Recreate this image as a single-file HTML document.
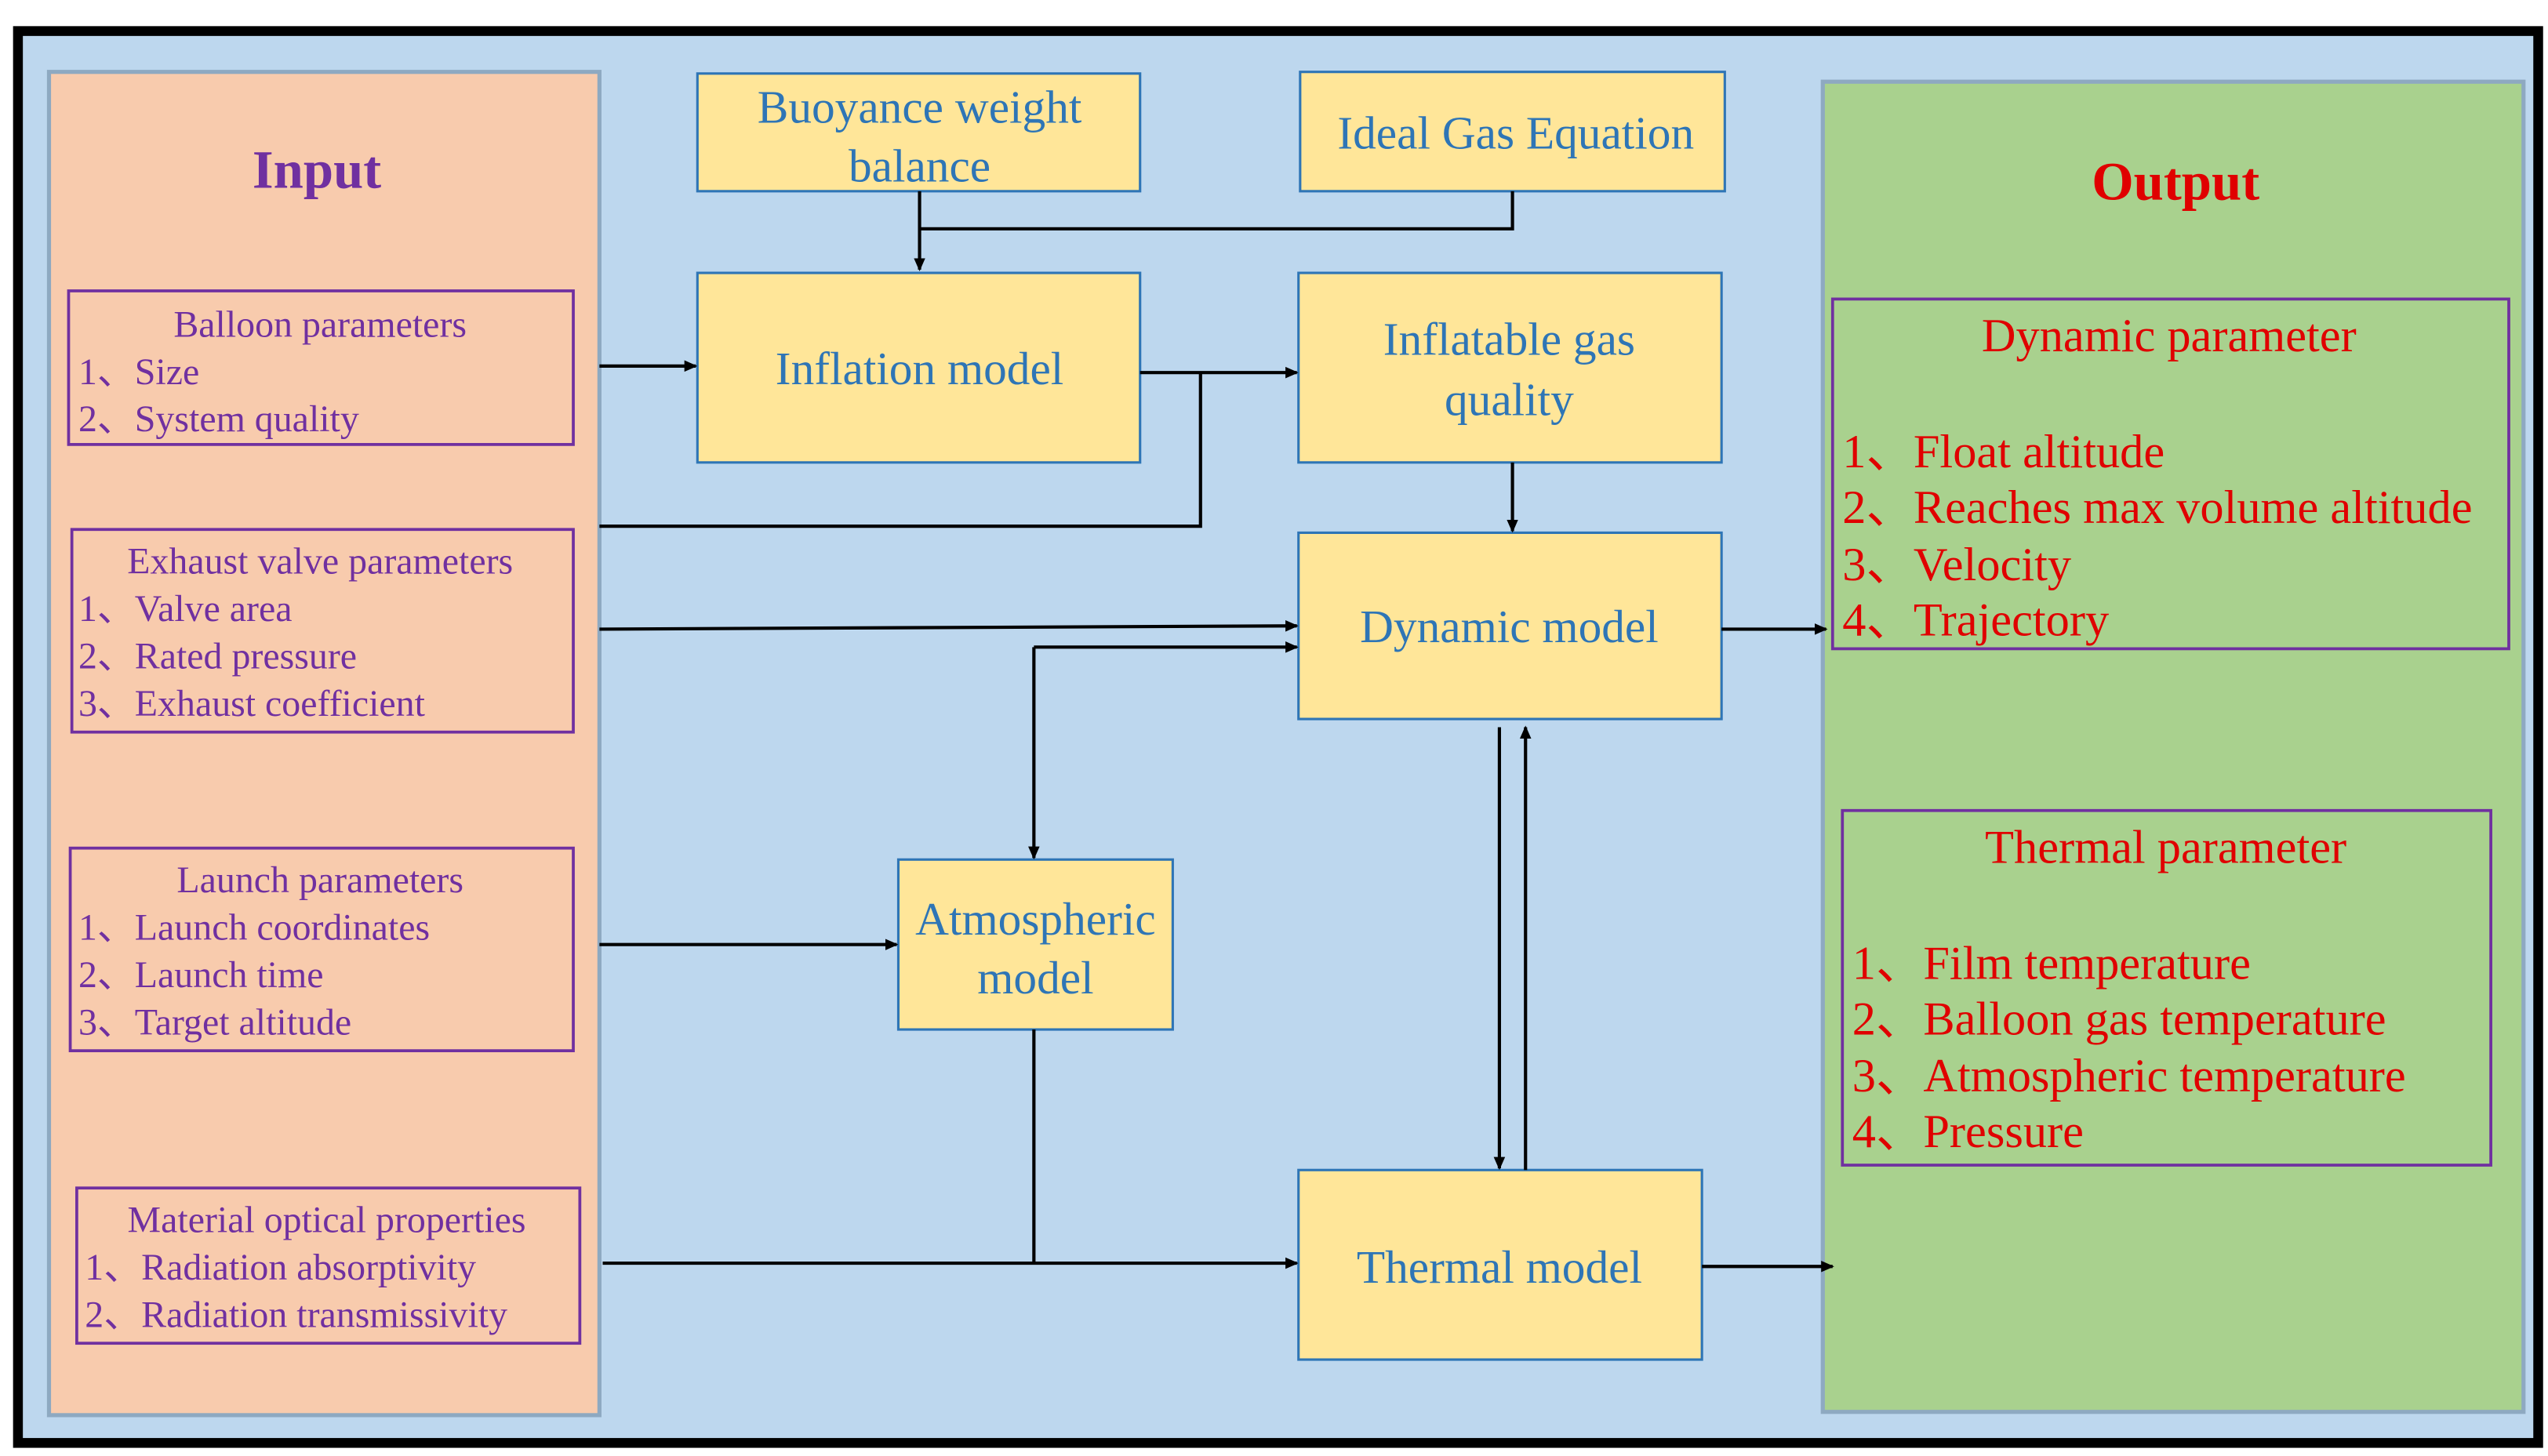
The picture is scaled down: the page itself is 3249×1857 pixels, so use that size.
<!DOCTYPE html>
<html><head><meta charset="utf-8"><style>
html,body{margin:0;padding:0;background:#fff;}
svg{display:block;}
text{font-family:"Liberation Serif",serif;}
</style></head><body>
<svg width="3249" height="1857" viewBox="0 0 1560 891" preserveAspectRatio="none" xmlns="http://www.w3.org/2000/svg">
<defs>
<marker id="a" markerWidth="8" markerHeight="8" refX="7" refY="4" orient="auto" markerUnits="userSpaceOnUse">
<path d="M0,0.5 L8,4 L0,7.5 z" fill="#000"/></marker>
</defs>
<rect x="0" y="0" width="1560" height="891" fill="#fff"/>
<rect x="11" y="19" width="1543" height="864" fill="#BDD7EE" stroke="#000" stroke-width="6"/>
<rect x="30" y="44" width="337" height="822" fill="#F8CBAD" stroke="#8EA9C1" stroke-width="2.5"/>
<rect x="1116" y="50" width="429" height="814" fill="#A9D18E" stroke="#8EA9C1" stroke-width="2.5"/>
<text x="194" y="115" font-size="33" font-weight="bold" fill="#7030A0" text-anchor="middle">Input</text>
<text x="1332" y="122" font-size="33" font-weight="bold" fill="#E00000" text-anchor="middle">Output</text>
<g fill="none" stroke="#7030A0" stroke-width="1.8">
<rect x="42" y="178" width="309" height="94"/>
<rect x="44" y="324" width="307" height="124"/>
<rect x="43" y="519" width="308" height="124"/>
<rect x="47" y="727" width="308" height="95"/>
</g>
<g font-size="23" fill="#7030A0">
<text x="196" y="206" text-anchor="middle">Balloon parameters</text>
<text x="48" y="235">1、Size</text>
<text x="48" y="264">2、System quality</text>
<text x="196" y="351" text-anchor="middle">Exhaust valve parameters</text>
<text x="48" y="380">1、Valve area</text>
<text x="48" y="409">2、Rated pressure</text>
<text x="48" y="438">3、Exhaust coefficient</text>
<text x="196" y="546" text-anchor="middle">Launch parameters</text>
<text x="48" y="575">1、Launch coordinates</text>
<text x="48" y="604">2、Launch time</text>
<text x="48" y="633">3、Target altitude</text>
<text x="200" y="754" text-anchor="middle">Material optical properties</text>
<text x="52" y="783">1、Radiation absorptivity</text>
<text x="52" y="812">2、Radiation transmissivity</text>
</g>
<g fill="#FFE699" stroke="#2E75B6" stroke-width="1.5">
<rect x="427" y="45" width="271" height="72"/>
<rect x="796" y="44" width="260" height="73"/>
<rect x="427" y="167" width="271" height="116"/>
<rect x="795" y="167" width="259" height="116"/>
<rect x="795" y="326" width="259" height="114"/>
<rect x="550" y="526" width="168" height="104"/>
<rect x="795" y="716" width="247" height="116"/>
</g>
<g font-size="28.5" fill="#2E75B6" text-anchor="middle">
<text x="563" y="75">Buoyance weight</text>
<text x="563" y="111">balance</text>
<text x="928" y="91">Ideal Gas Equation</text>
<text x="563" y="235">Inflation model</text>
<text x="924" y="217">Inflatable gas</text>
<text x="924" y="254">quality</text>
<text x="924" y="393">Dynamic model</text>
<text x="634" y="572">Atmospheric</text>
<text x="634" y="608">model</text>
<text x="918" y="785">Thermal model</text>
</g>
<g fill="none" stroke="#7030A0" stroke-width="1.8">
<rect x="1122" y="183" width="414" height="214"/>
<rect x="1128" y="496" width="397" height="217"/>
</g>
<g font-size="29" fill="#E00000">
<text x="1328" y="215" text-anchor="middle">Dynamic parameter</text>
<text x="1128" y="286">1、Float altitude</text>
<text x="1128" y="320">2、Reaches max volume altitude</text>
<text x="1128" y="355">3、Velocity</text>
<text x="1128" y="389">4、Trajectory</text>
<text x="1326" y="528" text-anchor="middle">Thermal parameter</text>
<text x="1134" y="599">1、Film temperature</text>
<text x="1134" y="633">2、Balloon gas temperature</text>
<text x="1134" y="668">3、Atmospheric temperature</text>
<text x="1134" y="702">4、Pressure</text>
</g>
<g stroke="#000" stroke-width="2" fill="none">
<path d="M563,117 V165" marker-end="url(#a)"/>
<path d="M926,117 V140 H563"/>
<path d="M367,224 H426" marker-end="url(#a)"/>
<path d="M698,228 H794" marker-end="url(#a)"/>
<path d="M367,322 H735 V228"/>
<path d="M926,283 V325" marker-end="url(#a)"/>
<path d="M367,385 L794,383" marker-end="url(#a)"/>
<path d="M633,396 H794" marker-end="url(#a)"/>
<path d="M633,396 V525" marker-end="url(#a)"/>
<path d="M367,578 H549" marker-end="url(#a)"/>
<path d="M633,630 V773"/>
<path d="M369,773 H794" marker-end="url(#a)"/>
<path d="M918,445 V715" marker-end="url(#a)"/>
<path d="M934,716 V445" marker-end="url(#a)"/>
<path d="M1054,385 H1118" marker-end="url(#a)"/>
<path d="M1042,775 H1122" marker-end="url(#a)"/>
</g>
</svg>
</body></html>
